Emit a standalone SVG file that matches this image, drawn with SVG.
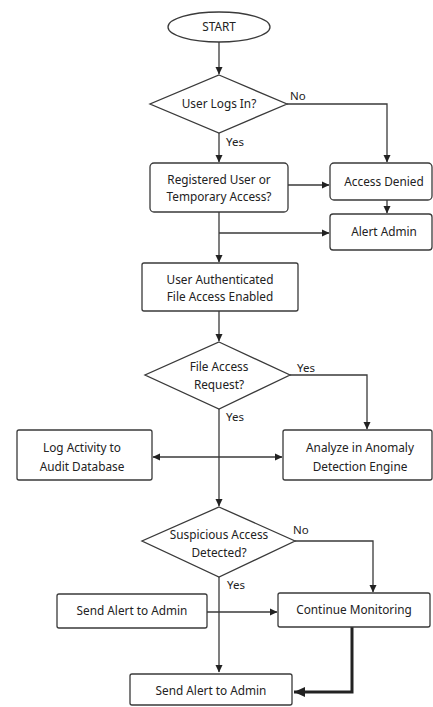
<svg xmlns="http://www.w3.org/2000/svg" width="433" height="707" viewBox="0 0 433 707">
<style>
.s{fill:#fff;stroke:#3a3a3a;stroke-width:1.3}
.t{font-family:"Noto Sans","Open Sans",sans-serif;font-size:11.8px;fill:#222;text-anchor:middle}
.l{font-family:"Noto Sans","Open Sans",sans-serif;font-size:11.5px;fill:#222}
.c{fill:none;stroke:#3a3a3a;stroke-width:1.3}
.k{fill:none;stroke:#222;stroke-width:3}
</style>
<defs>
<marker id="a" markerWidth="8" markerHeight="8" refX="7" refY="4" orient="auto" markerUnits="userSpaceOnUse"><path d="M0,0.5 L7.5,4 L0,7.5 Z" fill="#222"/></marker>
<marker id="ab" markerWidth="12" markerHeight="12" refX="11" refY="5" orient="auto" markerUnits="userSpaceOnUse"><path d="M0,0 L11,5 L0,10 Z" fill="#222"/></marker>
</defs>
<rect width="433" height="707" fill="#fff"/>
<g id="connectors">
<path class="c" d="M219,42 V74" marker-end="url(#a)"/>
<path class="c" d="M287,104 H387 V162" marker-end="url(#a)"/>
<path class="c" d="M219,133 V162" marker-end="url(#a)"/>
<path class="c" d="M288,185 H329" marker-end="url(#a)"/>
<path class="c" d="M387,200 V213" marker-end="url(#a)"/>
<path class="c" d="M219,212 V262" marker-end="url(#a)"/>
<path class="c" d="M219,233 H329" marker-end="url(#a)"/>
<path class="c" d="M219,311 V341" marker-end="url(#a)"/>
<path class="c" d="M290,375 H367 V429" marker-end="url(#a)"/>
<path class="c" d="M219,409 V506" marker-end="url(#a)"/>
<path class="c" d="M219,457 H153" marker-end="url(#a)"/>
<path class="c" d="M219,457 H282" marker-end="url(#a)"/>
<path class="c" d="M295,541 H373 V592" marker-end="url(#a)"/>
<path class="c" d="M219,577 V672" marker-end="url(#a)"/>
<path class="c" d="M207,612 H277" marker-end="url(#a)"/>
<path class="k" d="M352,627 V692 H294" marker-end="url(#ab)"/>
<text class="l" x="290" y="100">No</text>
<text class="l" x="226" y="146">Yes</text>
<text class="l" x="297" y="372">Yes</text>
<text class="l" x="226" y="421">Yes</text>
<text class="l" x="293" y="534">No</text>
<text class="l" x="227" y="589">Yes</text>
</g>
<g id="start"><ellipse class="s" cx="219" cy="27" rx="51" ry="15"/><text class="t" x="219" y="31">START</text></g>
<g id="login"><path class="s" d="M219,75 L287,104 L219,133 L150,104 Z"/><text class="t" x="219" y="108">User Logs In?</text></g>
<g id="registered"><rect class="s" x="150" y="163" width="138" height="49" rx="4"/><text class="t" x="219" y="184">Registered User or</text><text class="t" x="219" y="201">Temporary Access?</text></g>
<g id="denied"><rect class="s" x="330" y="163" width="102" height="37" rx="4"/><text class="t" x="384" y="186">Access Denied</text></g>
<g id="alert1"><rect class="s" x="330" y="214" width="102" height="36" rx="3"/><text class="t" x="384" y="236">Alert Admin</text></g>
<g id="auth"><rect class="s" x="142" y="263" width="156" height="48" rx="2"/><text class="t" x="220" y="284">User Authenticated</text><text class="t" x="220" y="301">File Access Enabled</text></g>
<g id="request"><path class="s" d="M219,342 L290,375 L219,409 L145,375 Z"/><text class="t" x="219" y="371">File Access</text><text class="t" x="219" y="389">Request?</text></g>
<g id="log"><rect class="s" x="17" y="430" width="135" height="50" rx="2"/><text class="t" x="82" y="452">Log Activity to</text><text class="t" x="82" y="471">Audit Database</text></g>
<g id="analyze"><rect class="s" x="283" y="430" width="149" height="50" rx="2"/><text class="t" x="360" y="452">Analyze in Anomaly</text><text class="t" x="360" y="471">Detection Engine</text></g>
<g id="suspicious"><path class="s" d="M219,507 L295,541 L219,577 L142,541 Z"/><text class="t" x="219" y="539">Suspicious Access</text><text class="t" x="219" y="557">Detected?</text></g>
<g id="alert2"><rect class="s" x="57" y="594" width="150" height="34" rx="2"/><text class="t" x="132" y="615">Send Alert to Admin</text></g>
<g id="monitor"><rect class="s" x="278" y="593" width="152" height="34" rx="2"/><text class="t" x="354" y="614">Continue Monitoring</text></g>
<g id="alert3"><rect class="s" x="130" y="674" width="162" height="31" rx="2"/><text class="t" x="211" y="695">Send Alert to Admin</text></g>
</svg>
